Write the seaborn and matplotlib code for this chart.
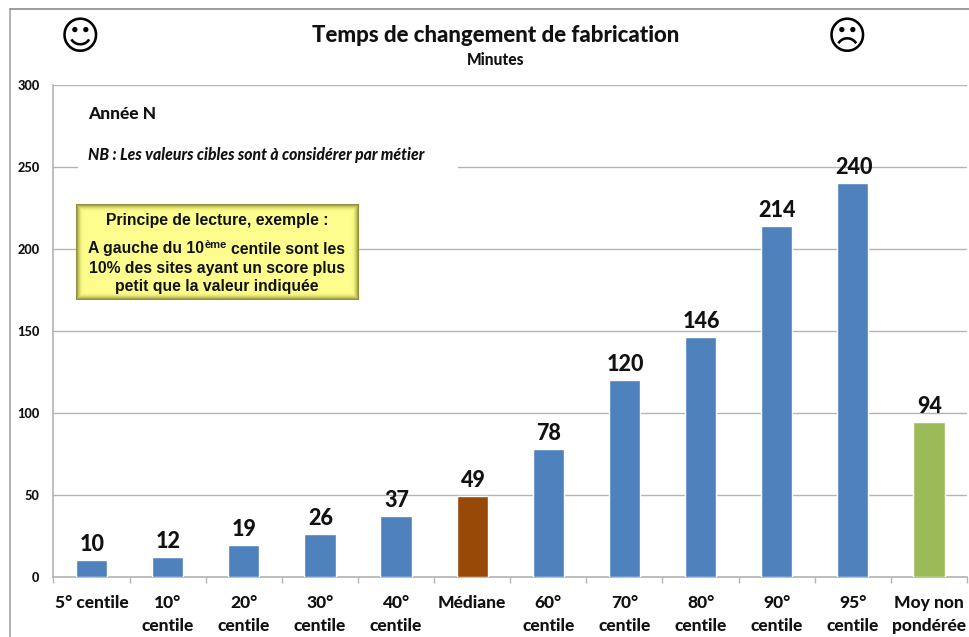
import matplotlib
matplotlib.use("Agg")
import matplotlib.pyplot as plt
from matplotlib.lines import Line2D
from matplotlib.patches import Rectangle
import pandas as pd
import seaborn as sns

categories = ["5° centile", "10°\ncentile", "20°\ncentile", "30°\ncentile", "40°\ncentile", "Médiane",
              "60°\ncentile", "70°\ncentile", "80°\ncentile", "90°\ncentile", "95°\ncentile", "Moy non\npondérée"]
values = [10, 12, 19, 26, 37, 49, 78, 120, 146, 214, 240, 94]
bar_colors = ["#4F81BD"] * 5 + ["#984807"] + ["#4F81BD"] * 5 + ["#9BBB59"]
yticks = [0, 50, 100, 150, 200, 250, 300]

W, H = 970, 637
HEAVY = 900

sns.set_theme(style="white")
plt.rcParams["font.family"] = ["Lato", "DejaVu Sans"]

df = pd.DataFrame({"categorie": categories, "valeur": values})

fig = plt.figure(figsize=(W / 100, H / 100), dpi=100, facecolor="white")
ax = fig.add_axes([53.5 / W, (H - 576.6) / H, (967 - 53.5) / W, (576.6 - 84.6) / H])

sns.barplot(data=df, x="categorie", y="valeur", hue="categorie", palette=bar_colors,
            legend=False, width=0.41, saturation=1, zorder=3, ax=ax)

ax.set_xlim(-0.5, 11.5)
ax.set_ylim(0, 300)
ax.set_xlabel("")
ax.set_ylabel("")
ax.set_yticks(yticks)
ax.tick_params(axis="y", length=4, width=1, color="#b4b4b4", labelsize=9.2, pad=6)
for lab in ax.get_yticklabels():
    lab.set_fontweight(HEAVY)
    lab.set_color("#111111")
ax.set_xticks(range(len(categories)))
ax.set_xticklabels(categories, fontsize=12.5, fontweight=HEAVY, linespacing=1.57, color="#111111")
ax.tick_params(axis="x", which="major", length=0, pad=13)
ax.set_xticks([i - 0.5 for i in range(len(categories) + 1)], minor=True)
ax.tick_params(axis="x", which="minor", length=4, width=1, color="#b4b4b4", bottom=True)

ax.grid(axis="y", color="#b4b4b4", lw=1)
ax.set_axisbelow(True)
for side in ["top", "right"]:
    ax.spines[side].set_visible(False)
for side in ["left", "bottom"]:
    ax.spines[side].set_color("#b4b4b4")
    ax.spines[side].set_linewidth(1.2)

# valeurs au dessus des barres
for i, v in enumerate(values):
    ax.annotate(str(v), (i, v), xytext=(0.5, 3.7), textcoords="offset points", ha="center", va="bottom",
                fontsize=15.5, fontweight=HEAVY, color="#111111", zorder=5)


def px(x, y):
    return x / W, 1 - y / H


# cadre du graphique
fig.add_artist(Line2D([10 / W, 10 / W], [0, 1 - 9 / H], color="#a6a6a6", lw=1.2))
fig.add_artist(Line2D([10 / W, 1], [1 - 9 / H, 1 - 9 / H], color="#8c8c8c", lw=1.2))

# titres
fig.text(*px(495.5, 36), "Temps de changement de fabrication", ha="center", va="center",
         fontsize=16, fontweight=HEAVY, color="#111111")
fig.text(*px(496, 60), "Minutes", ha="center", va="center", fontsize=11.2, fontweight=HEAVY, color="#111111")
fig.text(*px(80, 38), "\u263A", ha="center", va="center", fontsize=28, family="DejaVu Sans",
         fontweight="bold", color="black")
fig.text(*px(847, 38), "\u2639", ha="center", va="center", fontsize=28, family="DejaVu Sans",
         fontweight="bold", color="black")

# notes, fond blanc qui coupe la grille
fig.add_artist(Rectangle((78 / W, 1 - 185 / H), (458 - 78) / W, 60 / H, transform=fig.transFigure,
                         facecolor="white", edgecolor="none", zorder=2))
fig.text(*px(88, 114), "Année N", ha="left", va="center", fontsize=12.5, fontweight=HEAVY, color="#111111", zorder=3)
fig.text(*px(88, 155), "NB : Les valeurs cibles sont à considérer par métier", ha="left", va="center",
         fontsize=11.35, fontweight=HEAVY, style="italic", color="#111111", zorder=3)

# encadré jaune avec bord dégradé
glow = ["#8f8f3c", "#a8a84a", "#c2c25a", "#d8d86a", "#e8e876", "#f2f280", "#f8f888", "#fbfb8c"]
for k, c in enumerate(glow):
    fig.add_artist(Rectangle(((76 + k) / W, 1 - (300 - k) / H), (283 - 2 * k) / W, (96 - 2 * k) / H,
                             transform=fig.transFigure, facecolor=c, edgecolor="none", zorder=2))
fig.add_artist(Rectangle((84 / W, 1 - 292 / H), 267 / W, 80 / H, transform=fig.transFigure,
                         facecolor="#FDFD8E", edgecolor="none", zorder=2))
box_font = dict(family="Liberation Sans", fontweight="bold", fontsize=11.3, color="#111111", zorder=3, va="center")
fig.text(*px(217, 220), "Principe de lecture, exemple :", ha="center", **box_font)
fig.text(*px(88, 249), "A gauche du 10", ha="left", **box_font)
fig.text(*px(205, 245), "ème", ha="left", **{**box_font, "fontsize": 8})
fig.text(*px(231, 249), "centile sont les", ha="left", **box_font)
fig.text(*px(217, 268), "10% des sites ayant un score plus", ha="center", **box_font)
fig.text(*px(217, 286), "petit que la valeur indiquée", ha="center", **box_font)

fig.savefig("out.png", dpi=100)
